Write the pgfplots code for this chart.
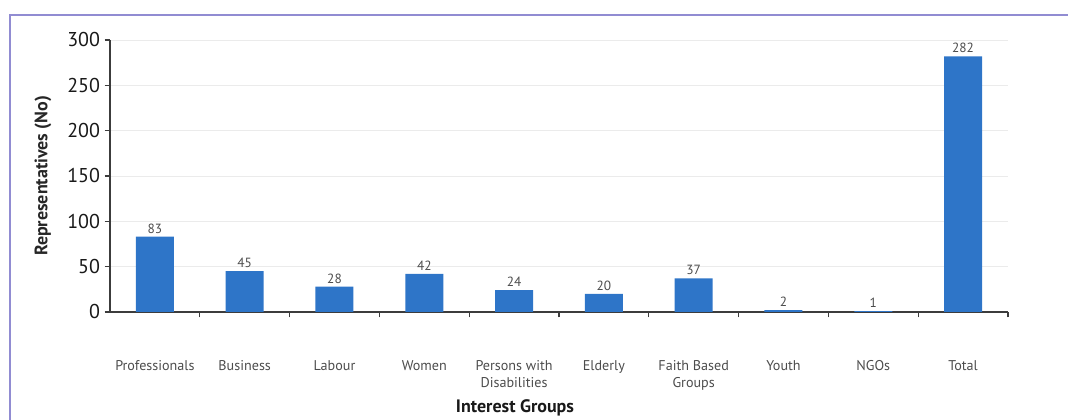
\documentclass[border=0pt]{standalone}
\usepackage{pgfplots}
\pgfplotsset{compat=1.18}
\usepackage{fontspec}
\setmainfont{PT Sans}
\definecolor{barblue}{RGB}{46,117,200}
\definecolor{framec}{RGB}{145,140,210}
\definecolor{axc}{RGB}{60,60,60}
\begin{document}
\begin{tikzpicture}[x=1pt,y=1pt]
\useasboundingbox (0,0) rectangle (801,315);
\draw[framec,line width=1.1pt] (7.5,-5) -- (7.5,303.75) -- (810,303.75);
\begin{axis}[
  at={(82.5pt,81pt)}, anchor=south west,
  scale only axis, width=673.5pt, height=204pt,
  xmin=-0.5, xmax=9.5, ymin=0, ymax=300,
  axis x line*=bottom, axis y line*=left,
  axis line style={axc,line width=1pt},
  xtick={0,...,9},
  xticklabels={Professionals,Business,Labour,Women,{Persons with\\Disabilities},Elderly,{Faith Based\\Groups},Youth,NGOs,Total},
  major x tick style={draw=none},
  minor xtick={0.5,1.5,...,9.5},
  minor tick length=4pt,
  minor x tick style={axc,line width=0.8pt},
  tick align=outside,
  ytick={0,50,...,300},
  major tick length=4pt,
  y tick style={axc,line width=0.8pt},
  ymajorgrids, y grid style={black!8,line width=0.6pt},
  /pgf/number format/assume math mode=true,
  xticklabel style={font=\fontsize{10.6}{12.5}\selectfont, text=black!70, align=center, yshift=-29pt, anchor=north},
  yticklabel style={font=\fontsize{15}{15}\selectfont, text=black!90},
  ylabel={Representatives (No)},
  ylabel style={font=\bfseries\fontsize{13.5}{13.5}\selectfont, text=black!85, at={(axis description cs:-0.0746,0.5)}, anchor=center, rotate=0},
  xlabel={Interest Groups},
  xlabel style={font=\bfseries\fontsize{13.5}{13.5}\selectfont, text=black!90, at={(axis description cs:0.451,-0.353)}, anchor=center},
  nodes near coords,
  every node near coord/.append style={font=\fontsize{10}{10}\selectfont, text=black!70, yshift=-1pt},
  clip=false,
]
\addplot[ybar, bar width=28.5pt, fill=barblue, draw=none] coordinates {
(0,83) (1,45) (2,28) (3,42) (4,24) (5,20) (6,37) (7,2) (8,1) (9,282)
};
\end{axis}
\end{tikzpicture}
\end{document}
